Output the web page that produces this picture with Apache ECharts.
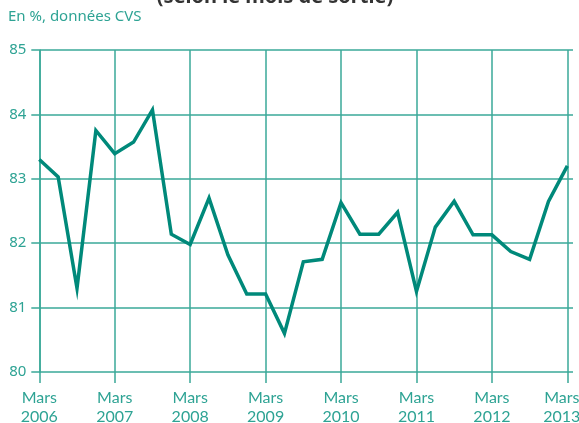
<!DOCTYPE html>
<html>
<head>
<meta charset="utf-8">
<script src="https://cdn.jsdelivr.net/npm/echarts@6/dist/echarts.min.js"></script>
<style>
html,body{margin:0;padding:0;background:#fff;}
#c{width:579px;height:423px;}
</style>
</head>
<body>
<div id="c"></div>
<script>
// Quarterly points, index 0 = Mars 2006
const quarterIndex = [0,1,2,3,4,5,6,7,8,9,10,11,12,13,14,15,16,17,18,19,20,21,22,23,24,25,26,27,28];
const values = [83.30,83.03,81.30,83.75,83.39,83.57,84.07,82.14,81.98,82.70,81.82,81.21,81.21,80.60,81.71,81.75,82.63,82.14,82.14,82.48,81.25,82.25,82.65,82.13,82.13,81.87,81.75,82.65,83.20];
const xTickValues = [0,4,8,12,16,20,24,28];
const xTickLabels = ['Mars\n2006','Mars\n2007','Mars\n2008','Mars\n2009','Mars\n2010','Mars\n2011','Mars\n2012','Mars\n2013'];
const yTicks = [80,81,82,83,84,85];
const titleText = '(selon le mois de sortie)';
const subtitleText = 'En %, données CVS';

const teal = '#2ea394';
const gridCol = '#3aa898';
const lineCol = '#00897a';
const font = 'Noto Sans';
const labelFont = 'Lato';

const chart = echarts.init(document.getElementById('c'));
chart.setOption({
  animation:false,
  backgroundColor:'#fff',
  grid:{left:39.3,right:6,top:50,bottom:51,containLabel:false,outerBoundsMode:'none'},
  graphic:[
    {type:'text',x:275,y:7,style:{text:titleText,fontFamily:font,fontWeight:'bold',fontSize:20,fill:'#333',align:'center',verticalAlign:'bottom'}},
    {type:'text',left:8,top:9,style:{text:subtitleText,fontFamily:font,fontSize:15,fill:teal}}
  ],
  xAxis:{
    type:'value',min:0,max:28.3,
    axisLine:{show:false},
    axisTick:{show:true,length:11,lineStyle:{color:gridCol,width:1.5},customValues:xTickValues},
    splitLine:{show:true,lineStyle:{color:gridCol,width:1.5}},
    axisLabel:{customValues:xTickValues,margin:16,color:teal,fontFamily:labelFont,fontSize:16,lineHeight:19,
      rich:{last:{color:teal,fontFamily:labelFont,fontSize:16,lineHeight:19,padding:[0,11,0,0]}},
      formatter:function(v){
        const i=xTickValues.indexOf(Math.round(v));
        if(i<0) return '';
        if(i===xTickValues.length-1) return xTickLabels[i].split('\n').map(s=>'{last|'+s+'}').join('\n');
        return xTickLabels[i];
      }}
  },
  yAxis:{
    type:'value',min:80,max:85,interval:1,
    axisLine:{show:true,lineStyle:{color:gridCol,width:1.5}},
    axisTick:{show:true,length:8,lineStyle:{color:gridCol,width:1.5}},
    splitLine:{show:true,lineStyle:{color:gridCol,width:1.5}},
    axisLabel:{margin:13,color:teal,fontFamily:font,fontSize:15,
      formatter:function(v){return yTicks.indexOf(v)>=0?String(v):'';}}
  },
  series:[{
    type:'line',
    data:quarterIndex.map((q,i)=>[q,values[i]]),
    symbol:'none',
    lineStyle:{color:lineCol,width:3.5,join:'miter'},
    z:5
  }]
});
</script>
</body>
</html>
